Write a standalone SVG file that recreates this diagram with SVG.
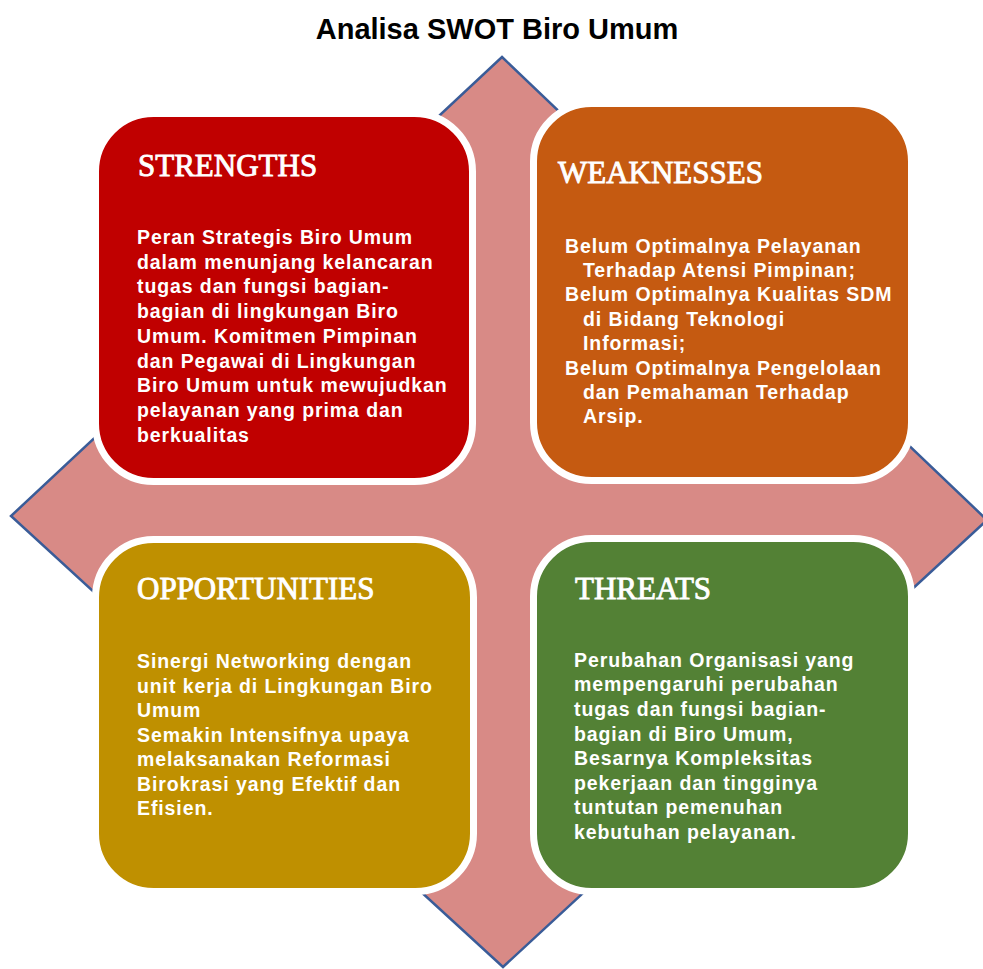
<svg xmlns="http://www.w3.org/2000/svg" width="983" height="969" viewBox="0 0 983 969">
  <style>
    .title { font-family: "Liberation Sans", Arial, sans-serif; font-weight: bold; font-size: 29px; fill: #000; }
    .box { stroke: #ffffff; stroke-width: 7; }
    .head { font-family: "Liberation Serif", "Times New Roman", serif; font-size: 31px; fill: #ffffff; stroke: #ffffff; stroke-width: 0.9; }
    .body { font-family: "Liberation Sans", Arial, sans-serif; font-weight: bold; font-size: 19.5px; letter-spacing: 0.9px; fill: #ffffff; }
  </style>

  <!-- heading -->
  <text class="title" x="497" y="39" text-anchor="middle">Analisa SWOT Biro Umum</text>

  <!-- four-way backdrop shape -->
  <g id="backdrop">
    <polygon points="502,57 987,520 503,967 11,516" fill="#D88A86" stroke="#3A5C98" stroke-width="2.5"/>
  </g>

  <g id="strengths">
    <rect class="box" x="95.5" y="113.5" width="377" height="368" rx="58" fill="#C00000"/>
    <text class="head" x="138" y="176">STRENGTHS</text>
    <text class="body">
      <tspan x="137" y="244">Peran Strategis Biro Umum</tspan>
      <tspan x="137" y="268.7">dalam menunjang kelancaran</tspan>
      <tspan x="137" y="293.4">tugas dan fungsi bagian-</tspan>
      <tspan x="137" y="318">bagian di lingkungan Biro</tspan>
      <tspan x="137" y="342.8">Umum. Komitmen Pimpinan</tspan>
      <tspan x="137" y="367.5">dan Pegawai di Lingkungan</tspan>
      <tspan x="137" y="392.2">Biro Umum untuk mewujudkan</tspan>
      <tspan x="137" y="417">pelayanan yang prima dan</tspan>
      <tspan x="137" y="441.6">berkualitas</tspan>
    </text>
  </g>

  <g id="weaknesses">
    <rect class="box" x="533.5" y="103.5" width="378" height="377" rx="58" fill="#C55A11"/>
    <text class="head" x="558" y="183">WEAKNESSES</text>
    <text class="body">
      <tspan x="565" y="252.7">Belum Optimalnya Pelayanan</tspan>
      <tspan x="583" y="276.9">Terhadap Atensi Pimpinan;</tspan>
      <tspan x="565" y="301.2">Belum Optimalnya Kualitas SDM</tspan>
      <tspan x="583" y="325.5">di Bidang Teknologi</tspan>
      <tspan x="583" y="349.9">Informasi;</tspan>
      <tspan x="565" y="374.5">Belum Optimalnya Pengelolaan</tspan>
      <tspan x="583" y="398.8">dan Pemahaman Terhadap</tspan>
      <tspan x="583" y="423.2">Arsip.</tspan>
    </text>
  </g>

  <g id="opportunities">
    <rect class="box" x="95.5" y="539.5" width="378" height="352" rx="58" fill="#BF9000"/>
    <text class="head" x="137" y="599">OPPORTUNITIES</text>
    <text class="body">
      <tspan x="137" y="668.3">Sinergi Networking dengan</tspan>
      <tspan x="137" y="692.8">unit kerja di Lingkungan Biro</tspan>
      <tspan x="137" y="717.3">Umum</tspan>
      <tspan x="137" y="741.8">Semakin Intensifnya upaya</tspan>
      <tspan x="137" y="766.3">melaksanakan Reformasi</tspan>
      <tspan x="137" y="790.8">Birokrasi yang Efektif dan</tspan>
      <tspan x="137" y="815.3">Efisien.</tspan>
    </text>
  </g>

  <g id="threats">
    <rect class="box" x="533.5" y="538.5" width="378" height="353" rx="58" fill="#538135"/>
    <text class="head" x="575" y="599">THREATS</text>
    <text class="body">
      <tspan x="574" y="666.7">Perubahan Organisasi yang</tspan>
      <tspan x="574" y="691.3">mempengaruhi perubahan</tspan>
      <tspan x="574" y="715.9">tugas dan fungsi bagian-</tspan>
      <tspan x="574" y="740.5">bagian di Biro Umum,</tspan>
      <tspan x="574" y="765.1">Besarnya Kompleksitas</tspan>
      <tspan x="574" y="789.7">pekerjaan dan tingginya</tspan>
      <tspan x="574" y="814.3">tuntutan pemenuhan</tspan>
      <tspan x="574" y="838.9">kebutuhan pelayanan.</tspan>
    </text>
  </g>
</svg>
